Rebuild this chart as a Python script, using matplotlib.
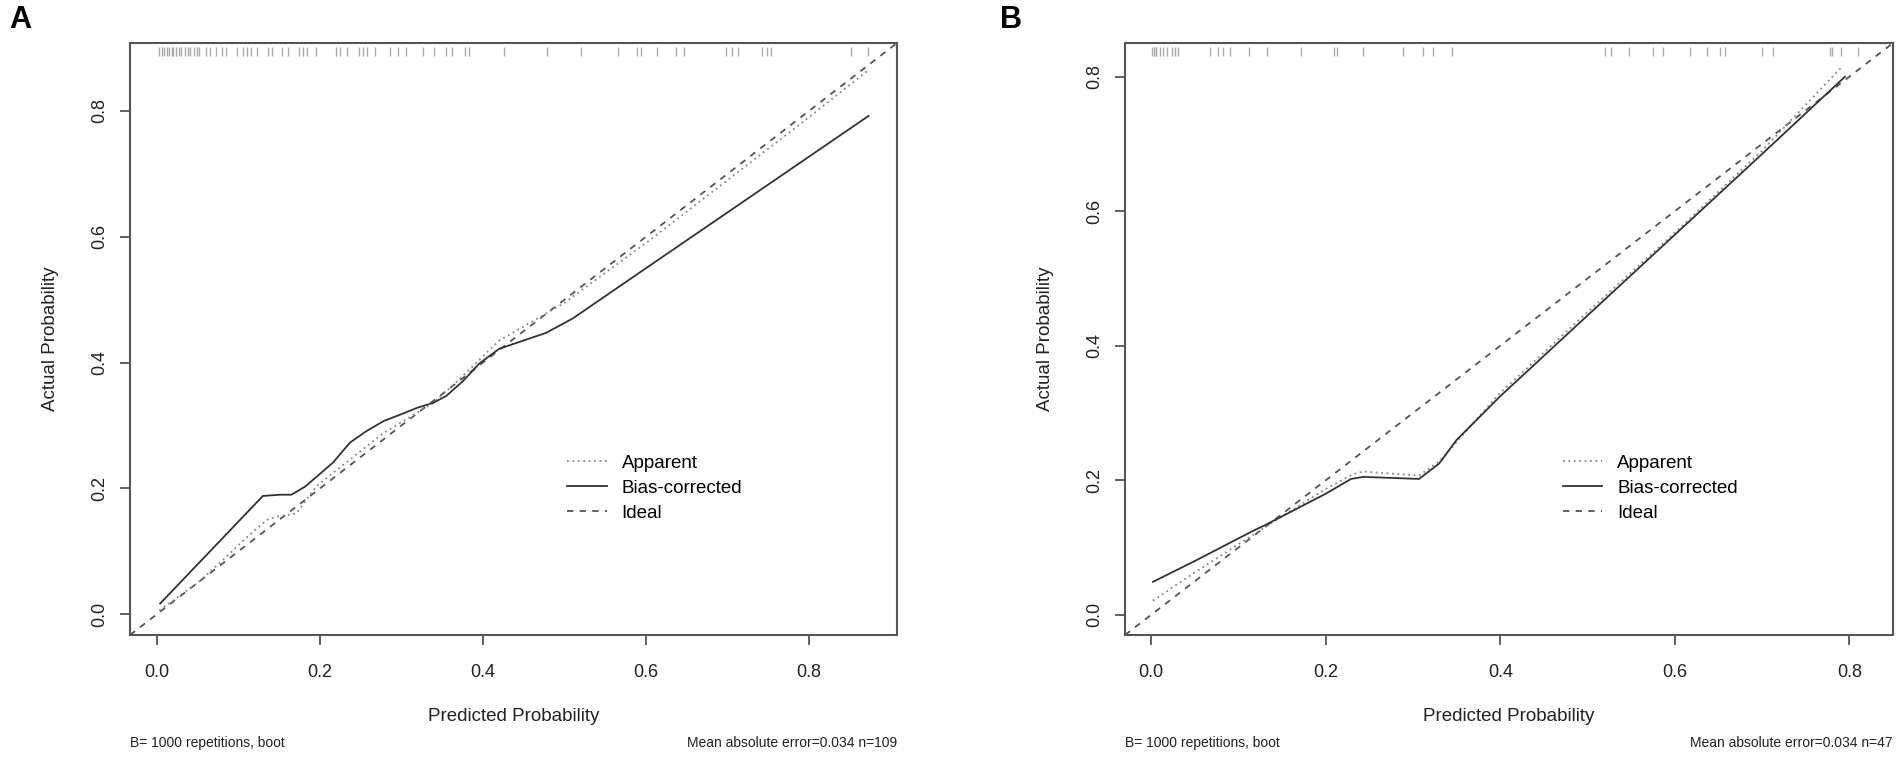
import numpy as np
import matplotlib
matplotlib.use("Agg")
import matplotlib.pyplot as plt
import matplotlib.transforms as mtransforms

plt.rcParams['font.family'] = ['Liberation Sans', 'DejaVu Sans']

# ---- panel A data ----
a_rug = [0.003, 0.006, 0.009, 0.012, 0.015, 0.018, 0.020, 0.023, 0.027, 0.030,
         0.034, 0.038, 0.041, 0.045, 0.049, 0.052, 0.060, 0.065, 0.072, 0.080,
         0.085, 0.098, 0.106, 0.111, 0.116, 0.123, 0.136, 0.141, 0.154, 0.161,
         0.174, 0.179, 0.184, 0.195, 0.220, 0.225, 0.233, 0.248, 0.253, 0.258,
         0.268, 0.286, 0.296, 0.306, 0.327, 0.340, 0.355, 0.362, 0.378, 0.383,
         0.426, 0.479, 0.520, 0.566, 0.589, 0.594, 0.614, 0.637, 0.647, 0.698,
         0.706, 0.713, 0.742, 0.748, 0.753, 0.852, 0.872]
a_app_x = [0.003, 0.05, 0.08, 0.11, 0.135, 0.147, 0.171, 0.196, 0.237, 0.278,
           0.319, 0.339, 0.37, 0.40, 0.42, 0.50, 0.60, 0.70, 0.80, 0.873]
a_app_y = [0.006, 0.05, 0.085, 0.122, 0.150, 0.155, 0.160, 0.204, 0.246, 0.288,
           0.320, 0.336, 0.372, 0.410, 0.435, 0.495, 0.590, 0.690, 0.790, 0.865]
a_bc_x = [0.004, 0.13, 0.151, 0.165, 0.182, 0.216, 0.237, 0.257, 0.278, 0.298,
          0.319, 0.339, 0.355, 0.375, 0.396, 0.42, 0.477, 0.51, 0.60, 0.873]
a_bc_y = [0.017, 0.188, 0.190, 0.190, 0.203, 0.241, 0.273, 0.291, 0.307, 0.317,
          0.328, 0.336, 0.347, 0.370, 0.399, 0.422, 0.447, 0.470, 0.550, 0.792]
a_lim = (-0.033, 0.908)
a_note = "Mean absolute error=0.034 n=109"

# ---- panel B data ----
b_rug = [0.001, 0.003, 0.005, 0.006, 0.010, 0.014, 0.018, 0.024, 0.027, 0.031,
         0.067, 0.076, 0.082, 0.090, 0.112, 0.133, 0.172, 0.210, 0.213, 0.243,
         0.288, 0.312, 0.323, 0.345, 0.520, 0.527, 0.548, 0.575, 0.587, 0.617,
         0.637, 0.652, 0.658, 0.700, 0.712, 0.778, 0.780, 0.790, 0.810]
b_app_x = [0.002, 0.05, 0.13, 0.20, 0.231, 0.243, 0.307, 0.33, 0.40, 0.50,
           0.60, 0.70, 0.791]
b_app_y = [0.021, 0.063, 0.130, 0.187, 0.209, 0.213, 0.207, 0.228, 0.330, 0.450,
           0.568, 0.690, 0.814]
b_bc_x = [0.002, 0.05, 0.117, 0.13, 0.20, 0.229, 0.243, 0.307, 0.33, 0.35,
          0.40, 0.50, 0.60, 0.70, 0.795]
b_bc_y = [0.049, 0.080, 0.125, 0.133, 0.180, 0.202, 0.205, 0.202, 0.225, 0.260,
          0.325, 0.445, 0.565, 0.685, 0.800]
b_lim = (-0.030, 0.850)
b_note = "Mean absolute error=0.034 n=47"

ticks = [0.0, 0.2, 0.4, 0.6, 0.8]
tick_labels = ["0.0", "0.2", "0.4", "0.6", "0.8"]

fig = plt.figure(figsize=(19.01, 7.58), dpi=100)
ax_a = fig.add_axes([130/1901, 1-635/758, 767/1901, 592/758])
ax_b = fig.add_axes([1125/1901, 1-635/758, 768/1901, 592/758])


def draw(ax, rug, app_x, app_y, bc_x, bc_y, lim, note, letter, letter_x):
    ax.set_xlim(lim)
    ax.set_ylim(lim)
    # ideal line corner to corner
    ax.plot(lim, lim, color="#555555", linestyle=(0, (3.5, 3.5)), lw=1.3, label="Ideal")
    ax.plot(app_x, app_y, color="#888888", linestyle=(0, (1, 2)), lw=1.3, label="Apparent")
    ax.plot(bc_x, bc_y, color="#333333", linestyle="-", lw=1.3, label="Bias-corrected")
    # rug at top
    trans = mtransforms.blended_transform_factory(ax.transData, ax.transAxes)
    ax.vlines(rug, 0.978, 0.993, transform=trans, color="#aaaaaa", lw=1)

    ax.set_xticks(ticks)
    ax.set_xticklabels(tick_labels)
    ax.set_yticks(ticks)
    ax.set_yticklabels(tick_labels, rotation=90, va="center")
    ax.tick_params(axis="both", length=7, width=1.3, color="#555555",
                   labelsize=13, labelcolor="#222222")
    ax.tick_params(axis="x", pad=14)
    ax.tick_params(axis="y", pad=9)
    for sp in ax.spines.values():
        sp.set_color("#555555")
        sp.set_linewidth(1.5)

    ax.set_xlabel("Predicted Probability", fontsize=13.5, color="#222222")
    ax.xaxis.set_label_coords(0.5, -0.1385)
    ax.xaxis.label.set_va("center")
    ax.set_ylabel("Actual Probability", fontsize=13.5, color="#222222")
    ax.yaxis.set_label_coords(-0.103, 0.5)
    ax.yaxis.label.set_va("center")

    h, l = ax.get_legend_handles_labels()
    order = [1, 2, 0]
    ax.legend([h[i] for i in order], [l[i] for i in order],
              loc="upper left", bbox_to_anchor=(0.57, 0.305), frameon=False,
              fontsize=13.5, handlelength=2.1, handletextpad=0.8,
              labelspacing=0.42, borderpad=0, borderaxespad=0)

    ax.text(0.0, -0.183, "B= 1000 repetitions, boot", transform=ax.transAxes,
            ha="left", va="center", fontsize=10, color="#222222")
    ax.text(1.0, -0.183, note, transform=ax.transAxes,
            ha="right", va="center", fontsize=10, color="#222222")
    fig.text(letter_x / 1901, 1 - 20 / 758, letter, ha="center", va="center",
             fontsize=22, fontweight="bold")


draw(ax_a, a_rug, a_app_x, a_app_y, a_bc_x, a_bc_y, a_lim, a_note, "A", 20)
draw(ax_b, b_rug, b_app_x, b_app_y, b_bc_x, b_bc_y, b_lim, b_note, "B", 1011)

fig.savefig("out.png", dpi=100)
